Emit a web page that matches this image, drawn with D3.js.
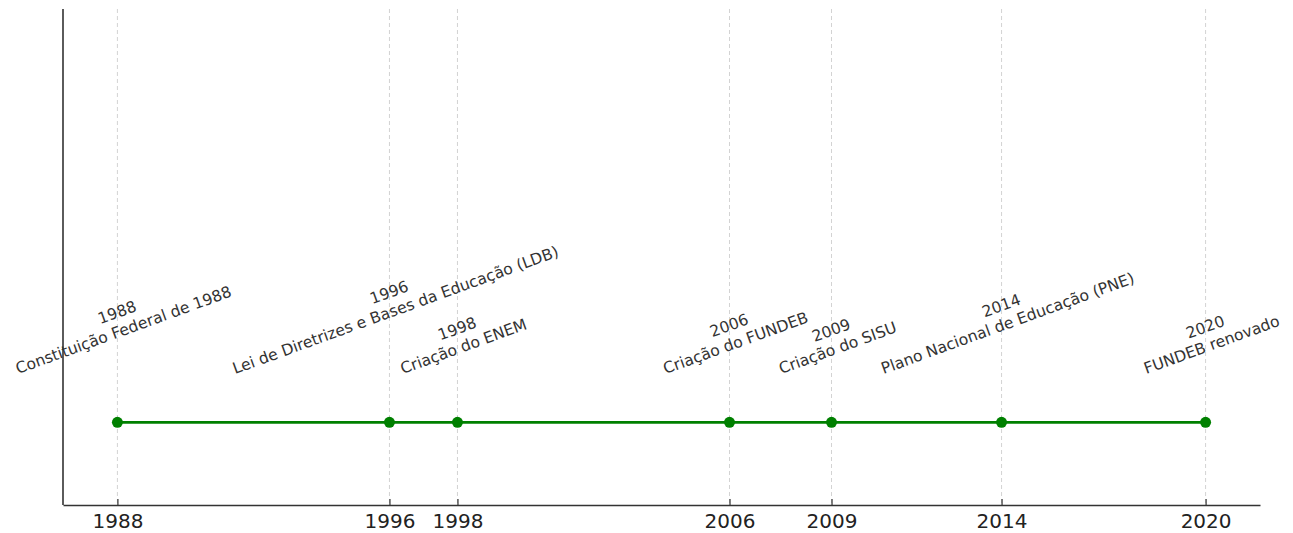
<!DOCTYPE html>
<html>
<head>
<meta charset="utf-8">
<script src="https://cdn.jsdelivr.net/npm/d3@7"></script>
<style>
  body { margin: 0; background: #fff; }
  svg { display: block; font-family: "DejaVu Sans", sans-serif; }
</style>
</head>
<body>
<svg id="timeline"></svg>
<script>
const CANVAS_WIDTH = 1293;
const CANVAS_HEIGHT = 533;
const MARGIN = { top: 9, right: 33, bottom: 28, left: 63 };

// events of the timeline
const years = [1988, 1996, 1998, 2006, 2009, 2014, 2020];
const events = [
  "Constituição Federal de 1988",
  "Lei de Diretrizes e Bases da Educação (LDB)",
  "Criação do ENEM",
  "Criação do FUNDEB",
  "Criação do SISU",
  "Plano Nacional de Educação (PNE)",
  "FUNDEB renovado",
];
const levels = [1, 1, 1, 1, 1, 1, 1];
const labelLevel = 1.11;

const svg = d3
  .select("#timeline")
  .attr("width", CANVAS_WIDTH)
  .attr("height", CANVAS_HEIGHT);

// 5% padding on the year domain, like the original plot
const span = d3.max(years) - d3.min(years);
const xScale = d3
  .scaleLinear()
  .domain([d3.min(years) - span * 0.05, d3.max(years) + span * 0.05])
  .range([MARGIN.left, CANVAS_WIDTH - MARGIN.right]);
const yScale = d3
  .scaleLinear()
  .domain([0.8, 2.0])
  .range([CANVAS_HEIGHT - MARGIN.bottom, MARGIN.top]);

// dashed vertical grid at each year
svg
  .append("g")
  .selectAll("line")
  .data(years)
  .enter()
  .append("line")
  .attr("x1", (d) => xScale(d))
  .attr("x2", (d) => xScale(d))
  .attr("y1", yScale.range()[1])
  .attr("y2", yScale.range()[0])
  .attr("stroke", "#d3d3d3")
  .attr("stroke-width", 1)
  .attr("stroke-dasharray", "4,3");

// the line and the dots
const data = years.map((y, i) => [y, levels[i]]);
svg
  .append("path")
  .datum(data)
  .attr("fill", "none")
  .attr("stroke", "green")
  .attr("stroke-width", 2.6)
  .attr(
    "d",
    d3.line().x((d) => xScale(d[0])).y((d) => yScale(d[1]))
  );

svg
  .append("g")
  .selectAll("circle")
  .data(data)
  .enter()
  .append("circle")
  .attr("cx", (d) => xScale(d[0]))
  .attr("cy", (d) => yScale(d[1]))
  .attr("r", 5.5)
  .attr("fill", "green");

// axes: ticks pointing inward, only the years
const xAxis = d3
  .axisBottom(xScale)
  .tickValues(years)
  .tickFormat(d3.format("d"))
  .tickSizeInner(-6)
  .tickSizeOuter(0)
  .tickPadding(9);

const gx = svg
  .append("g")
  .attr("transform", `translate(0, ${yScale.range()[0]})`)
  .call(xAxis);
gx.select(".domain").attr("stroke", "#333").attr("stroke-width", 1.6);
gx.selectAll(".tick line").attr("stroke", "#333").attr("stroke-width", 1.2);
gx.selectAll(".tick text")
  .attr("fill", "#222")
  .style("font-size", "20px")
  .style("font-family", "DejaVu Sans");

svg
  .append("line")
  .attr("x1", MARGIN.left)
  .attr("x2", MARGIN.left)
  .attr("y1", yScale.range()[1])
  .attr("y2", yScale.range()[0])
  .attr("stroke", "#333")
  .attr("stroke-width", 1.6);

// rotated labels: year over event, bottom of the box at labelLevel
years.forEach((year, i) => {
  const g = svg.append("g");
  const inner = g.append("g").attr("transform", "rotate(-20)");
  const text = inner
    .append("text")
    .attr("text-anchor", "middle")
    .attr("fill", "#333")
    .style("font-size", "15.6px");
  text.append("tspan").attr("x", 0).attr("dy", "-1.2em").text(year);
  text.append("tspan").attr("x", 0).attr("dy", "1.2em").text(events[i]);

  const box = inner.node().getBoundingClientRect();
  const cx = xScale(year) + 3;
  const bottom = yScale(labelLevel) + 1;
  const dx = cx - (box.left + box.right) / 2;
  const dy = bottom - box.bottom;
  g.attr("transform", `translate(${dx}, ${dy})`);
});
</script>
</body>
</html>
